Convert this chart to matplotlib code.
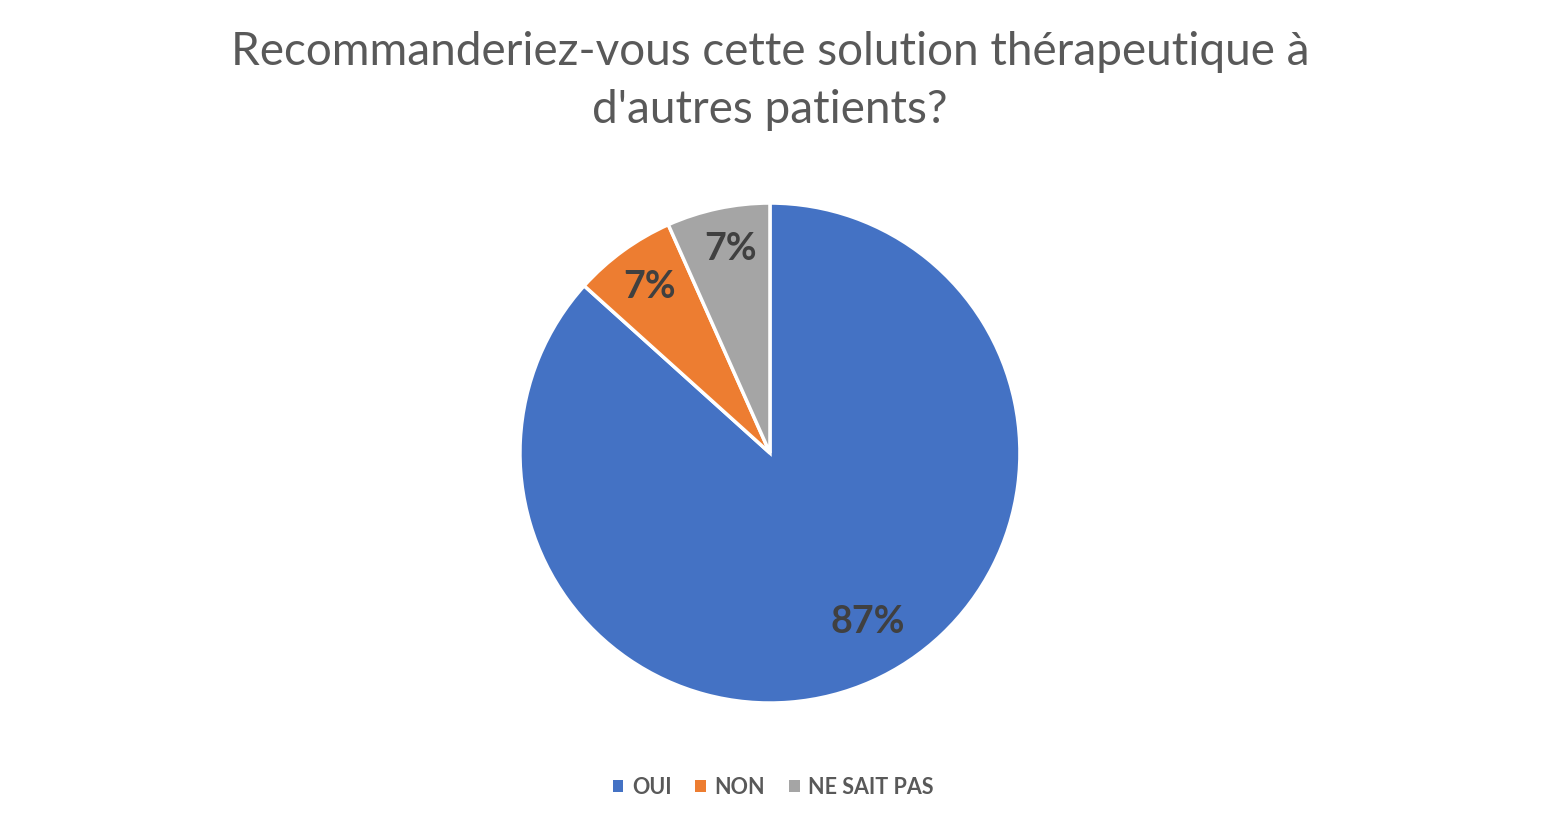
import matplotlib
matplotlib.use('Agg')
import matplotlib.pyplot as plt
from matplotlib.patches import Patch
import numpy as np

# survey answers (counts, 30 respondents)
categories = ['OUI', 'NON', 'NE SAIT PAS']
counts = [26, 2, 2]
colors = ['#4472C4', '#ED7D31', '#A5A5A5']
title = "Recommanderiez-vous cette solution thérapeutique à\nd'autres patients?"

plt.rcParams['font.family'] = ['Lato', 'DejaVu Sans']

fig = plt.figure(figsize=(15.41, 8.21), dpi=100)
ax = fig.add_axes([0.3374, 0.1437, 0.3245, 0.609])

wedges, texts, autotexts = ax.pie(
    counts, colors=colors, startangle=90, counterclock=False,
    autopct=lambda p: '%d%%' % round(p), pctdistance=0.8,
    wedgeprops=dict(edgecolor='white', linewidth=2.5),
    textprops=dict(color='#404040', fontsize=27, fontweight='bold'))

# data labels roughly where the "best fit" layout puts them
label_dist = [0.78, 0.82, 0.83]
label_shift = [6, 0, -1]
for w, t, d, s in zip(wedges, autotexts, label_dist, label_shift):
    a = np.deg2rad((w.theta1 + w.theta2) / 2 + s)
    t.set_position((d * np.cos(a), d * np.sin(a)))

ax.set_xlim(-1, 1)
ax.set_ylim(-1, 1)
ax.set_aspect('equal')

fig.text(0.4997, 0.962, title, ha='center', va='top', fontsize=33,
         color='#595959', linespacing=1.47)

handles = [Patch(facecolor=c, edgecolor='none') for c in colors]
leg = fig.legend(handles, categories, loc='center', bbox_to_anchor=(0.5017, 0.041),
                 ncol=3, frameon=False, handlelength=0.5, handleheight=0.5,
                 handletextpad=0.4, columnspacing=1.1,
                 prop=dict(size=15.5, weight='bold'))
for t in leg.get_texts():
    t.set_color('#595959')

fig.savefig('out.png', dpi=100)
